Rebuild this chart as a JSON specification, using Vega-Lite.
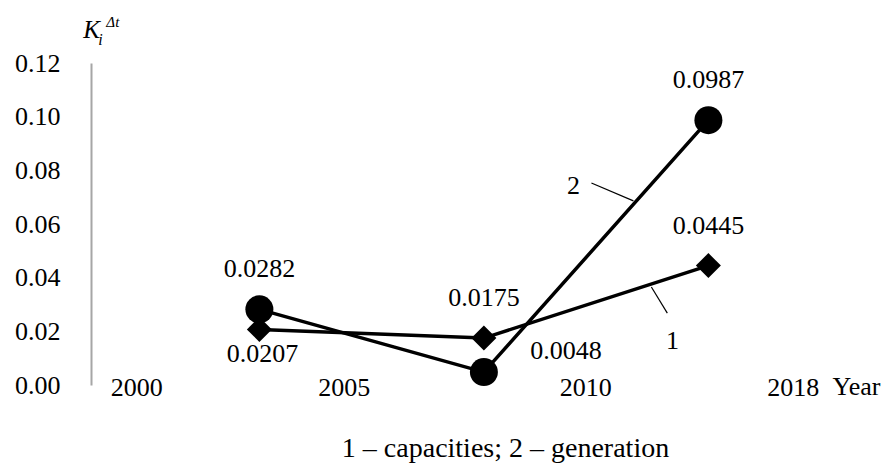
{
  "$schema": "https://vega.github.io/schema/vega-lite/v6.json",
  "width": 797,
  "height": 322,
  "autosize": "none",
  "padding": {"left": 91, "top": 63, "right": 0, "bottom": 78},
  "background": "white",
  "config": {
    "view": {"stroke": null},
    "font": "Liberation Serif",
    "text": {"font": "Liberation Serif", "fontSize": 26, "color": "black"}
  },
  "datasets": {
    "main": [
      {"period": 1, "series": "1", "value": 0.0207},
      {"period": 2, "series": "1", "value": 0.0175},
      {"period": 3, "series": "1", "value": 0.0445},
      {"period": 1, "series": "2", "value": 0.0282},
      {"period": 2, "series": "2", "value": 0.0048},
      {"period": 3, "series": "2", "value": 0.0987}
    ],
    "one": [{"k": 1}]
  },
  "layer": [
    {
      "data": {"name": "main"},
      "mark": {"type": "line", "color": "black", "strokeWidth": 3.5},
      "encoding": {
        "x": {
          "field": "period",
          "type": "quantitative",
          "scale": {"domain": [0.25, 3.8], "nice": false, "zero": false},
          "axis": {
            "values": [0.5, 1.5, 2.5, 3.5],
            "labelExpr": "['2000','2005','2010','2018'][floor(datum.value)]",
            "domain": false,
            "ticks": false,
            "grid": false,
            "labelFont": "Liberation Serif",
            "labelFontSize": 26,
            "labelColor": "black",
            "labelBaseline": "middle",
            "labelPadding": 2,
            "labelOffset": {"condition": {"test": "datum.value == 1.5 || datum.value == 3.5", "value": -28}, "value": -11},
            "labelFlush": false,
            "labelOverlap": false,
            "title": "1 – capacities; 2 – generation",
            "titleFont": "Liberation Serif",
            "titleFontSize": 28,
            "titleFontWeight": "normal",
            "titleColor": "black",
            "titleX": 414,
            "titleY": 71,
            "titleAlign": "center",
            "titleBaseline": "alphabetic"
          }
        },
        "y": {
          "field": "value",
          "type": "quantitative",
          "scale": {"domain": [0, 0.12], "nice": false},
          "axis": {
            "values": [0, 0.02, 0.04, 0.06, 0.08, 0.1, 0.12],
            "format": ".2f",
            "domain": true,
            "domainColor": "#a6a6a6",
            "domainWidth": 2,
            "ticks": false,
            "grid": false,
            "labelPadding": 31,
            "labelFont": "Liberation Serif",
            "labelFontSize": 26,
            "labelColor": "black",
            "labelFlush": false,
            "labelOverlap": false,
            "title": null
          }
        },
        "detail": {"field": "series"}
      }
    },
    {
      "data": {"name": "main"},
      "mark": {"type": "point", "filled": true, "color": "black", "opacity": 1},
      "encoding": {
        "x": {"field": "period", "type": "quantitative"},
        "y": {"field": "value", "type": "quantitative"},
        "shape": {"field": "series", "scale": {"domain": ["1", "2"], "range": ["diamond", "circle"]}, "legend": null},
        "size": {"field": "series", "scale": {"domain": ["1", "2"], "range": [625, 784]}, "legend": null}
      }
    },
    {
      "data": {"name": "main"},
      "transform": [{"filter": "!(datum.series == '1' && datum.period == 1) && !(datum.series == '2' && datum.period == 2)"}],
      "mark": {"type": "text", "baseline": "middle", "align": "center", "dy": -40},
      "encoding": {
        "x": {"field": "period", "type": "quantitative"},
        "y": {"field": "value", "type": "quantitative"},
        "text": {"field": "value", "format": ".4f"}
      }
    },
    {
      "data": {"name": "main"},
      "transform": [{"filter": "datum.series == '1' && datum.period == 1"}],
      "mark": {"type": "text", "baseline": "middle", "align": "center", "dy": 25, "dx": 3},
      "encoding": {
        "x": {"field": "period", "type": "quantitative"},
        "y": {"field": "value", "type": "quantitative"},
        "text": {"field": "value", "format": ".4f"}
      }
    },
    {
      "data": {"name": "main"},
      "transform": [{"filter": "datum.series == '2' && datum.period == 2"}],
      "mark": {"type": "text", "baseline": "middle", "align": "center", "dy": -21, "dx": 82},
      "encoding": {
        "x": {"field": "period", "type": "quantitative"},
        "y": {"field": "value", "type": "quantitative"},
        "text": {"field": "value", "format": ".4f"}
      }
    },
    {
      "data": {"name": "one"},
      "mark": {"type": "rule", "color": "black", "strokeWidth": 1.2},
      "encoding": {
        "x": {"datum": 2.479, "type": "quantitative"},
        "y": {"datum": 0.0753, "type": "quantitative"},
        "x2": {"datum": 2.666},
        "y2": {"datum": 0.0686}
      }
    },
    {
      "data": {"name": "one"},
      "mark": {"type": "rule", "color": "black", "strokeWidth": 1.2},
      "encoding": {
        "x": {"datum": 2.746, "type": "quantitative"},
        "y": {"datum": 0.0365, "type": "quantitative"},
        "x2": {"datum": 2.817},
        "y2": {"datum": 0.0268}
      }
    },
    {
      "data": {"name": "one"},
      "mark": {"type": "text", "baseline": "middle", "align": "center", "text": "2"},
      "encoding": {
        "x": {"datum": 2.399, "type": "quantitative"},
        "y": {"datum": 0.0742, "type": "quantitative"}
      }
    },
    {
      "data": {"name": "one"},
      "mark": {"type": "text", "baseline": "middle", "align": "center", "text": "1"},
      "encoding": {
        "x": {"datum": 2.84, "type": "quantitative"},
        "y": {"datum": 0.0164, "type": "quantitative"}
      }
    },
    {
      "data": {"name": "one"},
      "mark": {"type": "text", "baseline": "middle", "align": "center", "text": "Year", "dy": 2},
      "encoding": {
        "x": {"datum": 3.66, "type": "quantitative"},
        "y": {"datum": 0, "type": "quantitative"}
      }
    },
    {
      "data": {"name": "one"},
      "mark": {"type": "text", "baseline": "alphabetic", "align": "left", "text": "K", "fontStyle": "italic", "fontSize": 25},
      "encoding": {
        "x": {"datum": 0.216, "type": "quantitative"},
        "y": {"datum": 0.1293, "type": "quantitative"}
      }
    },
    {
      "data": {"name": "one"},
      "mark": {"type": "text", "baseline": "alphabetic", "align": "left", "text": "i", "fontStyle": "italic", "fontSize": 16, "dx": 15, "dy": 7},
      "encoding": {
        "x": {"datum": 0.216, "type": "quantitative"},
        "y": {"datum": 0.1293, "type": "quantitative"}
      }
    },
    {
      "data": {"name": "one"},
      "mark": {"type": "text", "baseline": "alphabetic", "align": "left", "text": "Δt", "fontStyle": "italic", "fontSize": 15, "dx": 23, "dy": -11},
      "encoding": {
        "x": {"datum": 0.216, "type": "quantitative"},
        "y": {"datum": 0.1293, "type": "quantitative"}
      }
    }
  ]
}
